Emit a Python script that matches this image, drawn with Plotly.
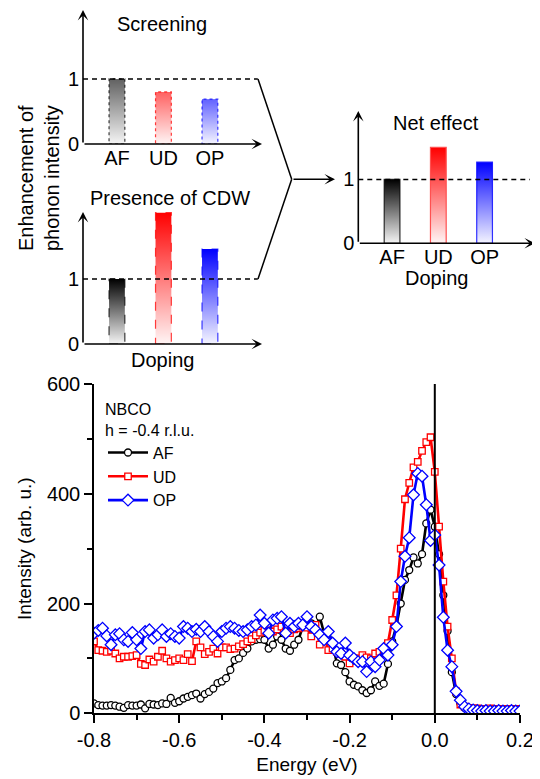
import plotly.graph_objects as go

# page body has an 8px margin, so the figure is 532x771 and placed at (8, 8)
OFF = 8
W, H = 540 - OFF, 779 - OFF
FONT = "Arial, Liberation Sans, Helvetica, sans-serif"

# ---------------- schematic panels data ----------------
categories = ["AF", "UD", "OP"]
screening = [1.00, 0.80, 0.69]
cdw_presence = [1.00, 2.02, 1.46]
net_effect = [1.00, 1.50, 1.27]
cat_rgb = ["0,0,0", "255,0,0", "0,0,255"]

# ---------------- RIXS spectra data ----------------
energy = [round(-0.80 + 0.01 * i, 2) for i in range(101)]
intensity_af = [
    18, 15, 14, 14, 15, 14, 12, 10, 15, 14,
    14, 16, 9, 17, 16, 15, 18, 17, 28, 19,
    22, 27, 30, 33, 36, 27, 35, 39, 45, 55,
    58, 64, 79, 97, 100, 110, 118, 131, 134, 135,
    134, 118, 125, 140, 134, 118, 114, 125, 134, 158,
    160, 164, 152, 176, 146, 150, 128, 91, 88, 75,
    58, 52, 49, 42, 37, 42, 58, 50, 54, 90,
    131, 160, 200, 243, 261, 284, 273, 290, 346, 371,
    340, 290, 215, 150, 75, 35, 18, 10, 8, 7,
    6, 6, 5, 6, 5, 5, 6, 5, 5, 4, 5,
]
intensity_ud = [
    131, 115, 114, 112, 114, 109, 100, 103, 103, 104,
    106, 90, 88, 98, 94, 103, 114, 100, 94, 97,
    100, 97, 108, 95, 131, 120, 108, 112, 118, 109,
    120, 120, 117, 118, 122, 126, 131, 135, 142, 147,
    150, 151, 149, 153, 158, 149, 146, 153, 155, 158,
    156, 140, 161, 125, 140, 115, 118, 112, 108, 103,
    91, 100, 100, 106, 102, 100, 109, 112, 109, 128,
    170, 215, 300, 390, 420, 448, 458, 478, 494, 503,
    440, 340, 240, 158, 100, 40, 16, 12, 10, 9,
    9, 8, 8, 9, 8, 8, 7, 8, 8, 7, 8,
]
intensity_op = [
    146, 151, 155, 141, 125, 143, 145, 134, 131, 147,
    134, 118, 149, 152, 137, 143, 152, 140, 145, 140,
    137, 158, 155, 149, 153, 149, 158, 149, 140, 131,
    149, 155, 158, 155, 151, 149, 152, 158, 161, 179,
    164, 146, 170, 173, 176, 146, 164, 158, 164, 161,
    176, 158, 152, 143, 134, 149, 128, 112, 109, 128,
    106, 100, 94, 94, 76, 94, 85, 97, 118, 106,
    125, 158, 240, 286, 320, 398, 437, 432, 380, 315,
    325, 270, 175, 115, 85, 40, 24, 12, 8, 6,
    5, 4, 5, 4, 4, 5, 4, 4, 5, 4, 4,
]
series_names = ["AF", "UD", "OP"]
series_colors = ["#000000", "#ff0000", "#0000ff"]
series_symbols = ["circle", "square", "diamond"]
series_sizes = [7, 6.5, 9]

energy_ticks = [-0.8, -0.6, -0.4, -0.2, 0.0, 0.2]
energy_ticklabels = ["-0.8", "-0.6", "-0.4", "-0.2", "0.0", "0.2"]
energy_minor = [-0.7, -0.5, -0.3, -0.1, 0.1]
intensity_ticks = [0, 200, 400, 600]
intensity_minor = [100, 300, 500]


def fx(px):
    return (px - OFF) / W


def fy(py):
    return 1 - (py - OFF) / H


fig = go.Figure()

X0 = -0.73
HALF = 0.17
panels = [
    dict(ax="", vals=screening, xdom=(83, 262), ydom=(10, 144), ytop=2.06, xend=3.12,
         refend=3.03, dash="dot", alpha=0.62, labels=True),
    dict(ax="2", vals=cdw_presence, xdom=(83, 262), ydom=(212, 344), ytop=2.03, xend=3.12,
         refend=3.03, dash="dash", alpha=1.0, labels=False),
    dict(ax="3", vals=net_effect, xdom=(358.3, 535), ydom=(111, 243.3), ytop=2.07, xend=3.09,
         refend=2.98, dash="solid", alpha=1.0, labels=True),
]

layout_axes = {}
shapes = []
annotations = []

for p in panels:
    xa = "x" + p["ax"]
    ya = "y" + p["ax"]
    for i, (cat, v) in enumerate(zip(categories, p["vals"])):
        rgb = cat_rgb[i]
        line_col = f"rgba({rgb},{0.75 if p['dash'] != 'solid' else 0.8})"
        if p["dash"] == "solid" and i == 1:
            line_col = "rgba(255,80,80,1)"
        fig.add_trace(go.Scatter(
            x=[i - HALF, i + HALF, i + HALF, i - HALF, i - HALF],
            y=[0, 0, v, v, 0],
            mode="lines", fill="toself",
            fillgradient=dict(type="vertical", colorscale=[
                [0, f"rgba({rgb},0.04)"], [1, f"rgba({rgb},{p['alpha']})"]]),
            line=dict(color=line_col, width=1.2, dash=p["dash"]),
            xaxis=xa, yaxis=ya, showlegend=False, hoverinfo="skip",
        ))
    key = "xaxis" + p["ax"]
    ykey = "yaxis" + p["ax"]
    layout_axes[key] = dict(
        domain=[fx(p["xdom"][0]), fx(p["xdom"][1])], range=[X0, p["xend"]], anchor=ya,
        showgrid=False, zeroline=False, showline=False, ticks="", automargin=False,
        tickmode="array", tickvals=[0, 1, 2], ticktext=categories,
        showticklabels=p["labels"], tickfont=dict(size=20, color="black"),
    )
    layout_axes[ykey] = dict(
        domain=[fy(p["ydom"][1]), fy(p["ydom"][0])], range=[0, p["ytop"]], anchor=xa,
        showgrid=False, zeroline=False, showline=False, ticks="", automargin=False,
        tickmode="array", tickvals=[0, 1], ticktext=["0", "1"],
        tickfont=dict(size=20, color="black"), ticklabelstandoff=3,
    )
    # dashed reference line at 1
    shapes.append(dict(type="line", xref=xa, yref=ya, x0=X0, x1=p["refend"], y0=1, y1=1,
                       line=dict(color="black", width=1.5, dash="5px,4px"), layer="above"))
    # axis arrows
    annotations.append(dict(xref=xa, yref=ya, axref=xa, ayref=ya, x=X0, y=p["ytop"], ax=X0, ay=0,
                            showarrow=True, arrowhead=3, arrowsize=1.1, arrowwidth=1.6,
                            arrowcolor="black", text="", standoff=0, startstandoff=0))
    annotations.append(dict(xref=xa, yref=ya, axref=xa, ayref=ya, x=p["xend"], y=0, ax=X0, ay=0,
                            showarrow=True, arrowhead=3, arrowsize=1.1, arrowwidth=1.6,
                            arrowcolor="black", text="", standoff=0, startstandoff=0))

# connectors between panels (pixel positions)
junction = (291.7, 179.3)
shapes.append(dict(type="line", xref="paper", yref="paper", x0=fx(258), y0=fy(79),
                   x1=fx(junction[0]), y1=fy(junction[1]), line=dict(color="black", width=1.5)))
shapes.append(dict(type="line", xref="paper", yref="paper", x0=fx(258), y0=fy(279),
                   x1=fx(junction[0]), y1=fy(junction[1]), line=dict(color="black", width=1.5)))
annotations.append(dict(xref="paper", yref="paper", x=fx(335), y=fy(179.3), ax=-43, ay=0,
                        showarrow=True, arrowhead=3, arrowsize=1.1, arrowwidth=1.6,
                        arrowcolor="black", text="", standoff=0))


def txt(s, x, y, size=20, angle=0):
    annotations.append(dict(xref="paper", yref="paper", x=fx(x), y=fy(y), text=s,
                            showarrow=False, xanchor="center", yanchor="middle",
                            textangle=angle, font=dict(size=size, color="black")))


txt("Screening", 162, 24)
txt("Presence of CDW", 170, 198)
txt("Doping", 162, 360)
txt("Net effect", 436, 123)
txt("Doping", 436, 278)
txt("Enhancement of<br>phonon intensity", 39, 178, angle=-90)

# ---------------- main spectra ----------------
for name, vals, col, sym, sz in zip(series_names, [intensity_af, intensity_ud, intensity_op],
                                    series_colors, series_symbols, series_sizes):
    fig.add_trace(go.Scatter(
        x=energy, y=vals, name=name, mode="lines+markers",
        line=dict(color=col, width=2.6),
        marker=dict(symbol=sym, size=sz, color="white", line=dict(color=col, width=1.3)),
        xaxis="x4", yaxis="y4",
    ))

layout_axes["xaxis4"] = dict(
    domain=[fx(94), fx(520)], anchor="y4", range=[-0.8, 0.2], automargin=False,
    tickmode="array", tickvals=energy_ticks, ticktext=energy_ticklabels,
    ticks="outside", ticklen=8, tickwidth=1.5, tickcolor="black",
    minor=dict(tickmode="array", tickvals=energy_minor, ticks="outside", ticklen=5,
               tickwidth=1.5, tickcolor="black", showgrid=False),
    showline=True, linewidth=1.5, linecolor="black", showgrid=False, zeroline=False,
    tickfont=dict(size=20, color="black"),
    title=dict(text="Energy (eV)", font=dict(size=19, color="black"), standoff=8),
)
layout_axes["yaxis4"] = dict(
    domain=[fy(713.3), fy(384)], anchor="x4", range=[0, 600], automargin=False,
    tickmode="array", tickvals=intensity_ticks,
    ticks="outside", ticklen=8, tickwidth=1.5, tickcolor="black",
    minor=dict(tickmode="array", tickvals=intensity_minor, ticks="outside", ticklen=5,
               tickwidth=1.5, tickcolor="black", showgrid=False),
    showline=True, linewidth=1.5, linecolor="black", showgrid=False, zeroline=False,
    tickfont=dict(size=20, color="black"),
    title=dict(text="Intensity (arb. u.)", font=dict(size=19, color="black"), standoff=10),
)
layout_axes["xaxis5"] = dict(
    overlaying="x4", anchor="y4", side="top", range=[-0.8, 0.2], automargin=False,
    tickmode="linear", tick0=-0.8, dtick=0.1, ticks="inside", ticklen=8, tickwidth=1.5,
    tickcolor="black", showticklabels=False, showline=True, linewidth=1.5,
    linecolor="black", showgrid=False, zeroline=False,
)
layout_axes["yaxis5"] = dict(
    overlaying="y4", anchor="x4", side="right", range=[0, 600], automargin=False,
    tickmode="linear", tick0=0, dtick=100, ticks="inside", ticklen=6, tickwidth=1.5,
    tickcolor="black", showticklabels=False, showline=True, linewidth=1.5,
    linecolor="black", showgrid=False, zeroline=False,
)

shapes.append(dict(type="line", xref="x4", yref="y4 domain", x0=0, x1=0, y0=0, y1=1,
                   line=dict(color="black", width=2)))

fig.update_layout(
    width=W, height=H, margin=dict(l=0, r=0, t=0, b=0, autoexpand=False),
    paper_bgcolor="white", plot_bgcolor="white",
    font=dict(family=FONT, color="black"),
    showlegend=True,
    legend=dict(x=fx(103), y=fy(394), xanchor="left", yanchor="top",
                bgcolor="rgba(0,0,0,0)", font=dict(size=16, color="black"),
                title=dict(text="NBCO<br>h = -0.4 r.l.u.", font=dict(size=16, color="black")),
                tracegroupgap=0, itemwidth=40),
    shapes=shapes, annotations=annotations,
    **layout_axes,
)

fig.write_html("out.html")
